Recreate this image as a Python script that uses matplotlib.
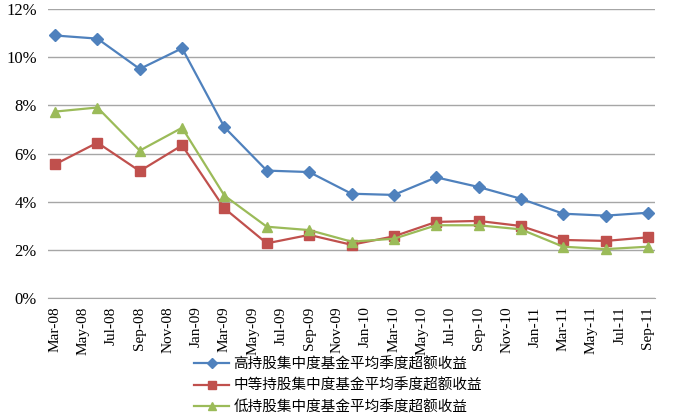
import matplotlib.pyplot as plt
import numpy as np

# quarterly dates, month index counted from Mar-08
quarters = ['Mar-08', 'Jun-08', 'Sep-08', 'Dec-08', 'Mar-09', 'Jun-09', 'Sep-09', 'Dec-09',
            'Mar-10', 'Jun-10', 'Sep-10', 'Dec-10', 'Mar-11', 'Jun-11', 'Sep-11']
month_idx = np.arange(0, 43, 3)

high = [10.9, 10.77, 9.51, 10.37, 7.09, 5.29, 5.23, 4.33, 4.28, 5.01, 4.61, 4.12, 3.50, 3.42, 3.54]
mid = [5.55, 6.45, 5.27, 6.34, 3.72, 2.27, 2.62, 2.21, 2.56, 3.16, 3.20, 2.99, 2.41, 2.37, 2.52]
low = [7.74, 7.91, 6.12, 7.07, 4.25, 2.96, 2.82, 2.34, 2.46, 3.02, 3.02, 2.85, 2.13, 2.03, 2.13]

labels = ['高持股集中度基金平均季度超额收益',
          '中等持股集中度基金平均季度超额收益',
          '低持股集中度基金平均季度超额收益']

tick_labels = ['Mar-08', 'May-08', 'Jul-08', 'Sep-08', 'Nov-08', 'Jan-09', 'Mar-09', 'May-09',
               'Jul-09', 'Sep-09', 'Nov-09', 'Jan-10', 'Mar-10', 'May-10', 'Jul-10', 'Sep-10',
               'Nov-10', 'Jan-11', 'Mar-11', 'May-11', 'Jul-11', 'Sep-11']

fig = plt.figure(figsize=(6.9, 4.19), dpi=100)
ax = fig.add_axes([48 / 690, 1 - 298 / 419, 607 / 690, 289 / 419])

ax.plot(month_idx, high, color='#4F81BD', marker='D', markersize=6, lw=1.6, label=labels[0])
ax.plot(month_idx, mid, color='#C0504D', marker='s', markersize=7, lw=1.6, label=labels[1])
ax.plot(month_idx, low, color='#9BBB59', marker='^', markersize=7, lw=1.6, label=labels[2])

ax.set_xlim(-0.5, 42.5)
ax.set_ylim(0, 12)
ax.set_yticks(np.arange(0, 13, 2))
ax.set_yticklabels([f'{v}%' for v in range(0, 13, 2)], family='Liberation Serif', fontsize=12)
ax.set_xticks(np.arange(0, 43, 2))
ax.set_xticklabels(tick_labels, rotation=90, family='Liberation Serif', fontsize=11)
ax.tick_params(axis='y', length=0, pad=8)
ax.tick_params(axis='x', length=0, pad=6)
ax.grid(axis='y', color='#A6A6A6', lw=1)
ax.set_axisbelow(True)
for s in ['left', 'right', 'top']:
    ax.spines[s].set_visible(False)
ax.spines['bottom'].set_color('#A6A6A6')

fig.legend(loc='upper left', bbox_to_anchor=(194 / 690, 1 - 357 / 419), frameon=False,
           prop={'family': ['Noto Sans CJK SC', 'DejaVu Sans'], 'size': 10.5},
           handlelength=2.4, handletextpad=0.3, labelspacing=0.5, borderpad=0, borderaxespad=0,
           markerscale=0.8)

fig.savefig('out.png', dpi=100)
